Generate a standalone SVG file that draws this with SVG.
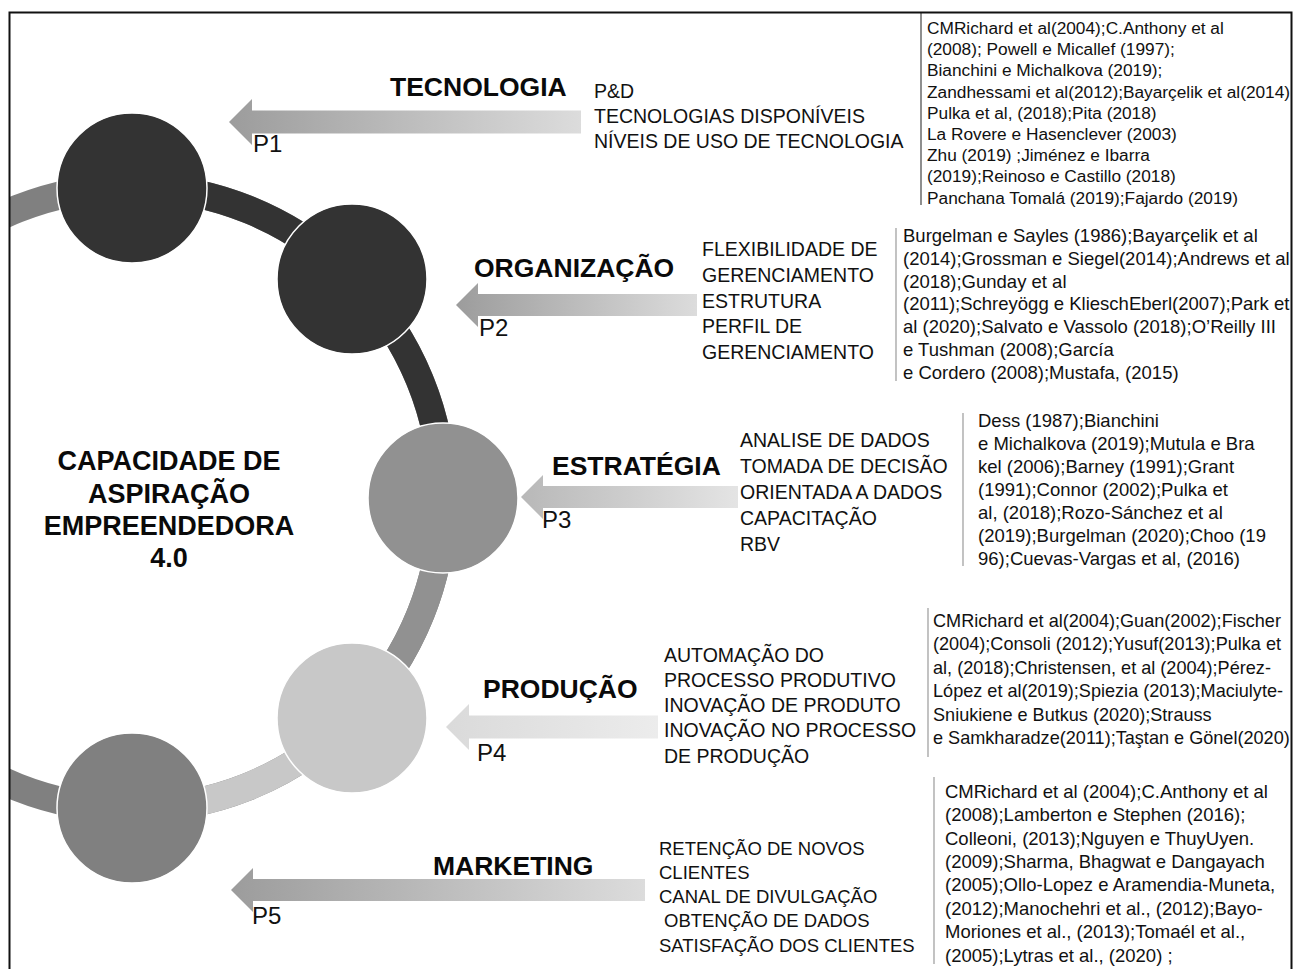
<svg xmlns="http://www.w3.org/2000/svg" width="1295" height="969" viewBox="0 0 1295 969">
<defs>
<style>
.h{font-family:"Liberation Sans",Arial,sans-serif;font-weight:bold;font-size:26.5px;fill:#0a0a0a}
.c{font-family:"Liberation Sans",Arial,sans-serif;font-weight:bold;font-size:27px;fill:#0a0a0a;text-anchor:middle}
.it{font-family:"Liberation Sans",Arial,sans-serif;font-size:19.5px;fill:#111}
.p{font-family:"Liberation Sans",Arial,sans-serif;font-size:24px;fill:#111}
.r1{font-family:"Liberation Sans",Arial,sans-serif;font-size:17.3px;fill:#111}
.r{font-family:"Liberation Sans",Arial,sans-serif;font-size:18.5px;fill:#111}
.r4{font-family:"Liberation Sans",Arial,sans-serif;font-size:18.1px;fill:#111}
.vl{stroke:#9a9a9a;stroke-width:1.2;fill:none}
.ring{fill:none;stroke-width:28}
.node{stroke:#ffffff;stroke-width:1.5}
</style>
<linearGradient id="gA" x1="0" y1="0" x2="1" y2="0">
<stop offset="0" stop-color="#9c9c9c"/><stop offset="1" stop-color="#dcdcdc"/>
</linearGradient>
<linearGradient id="gB" x1="0" y1="0" x2="1" y2="0">
<stop offset="0" stop-color="#b8b8b8"/><stop offset="1" stop-color="#e4e4e4"/>
</linearGradient>
<linearGradient id="gC" x1="0" y1="0" x2="1" y2="0">
<stop offset="0" stop-color="#dadada"/><stop offset="1" stop-color="#ececec"/>
</linearGradient>
<clipPath id="frame"><rect x="10" y="13" width="1281" height="960"/></clipPath>
</defs>
<rect width="1295" height="969" fill="#ffffff"/>
<g clip-path="url(#frame)">
<g id="connectors">
<g id="ring">
<circle class="ring" cx="132" cy="498" r="311" stroke="#808080"/>
<path class="ring" stroke="#333333" d="M132,187 A311,311 0 0 1 351.9,278.1"/>
<path class="ring" stroke="#333333" d="M351.9,278.1 A311,311 0 0 1 443,498"/>
<path class="ring" stroke="#919191" d="M443,498 A311,311 0 0 1 351.9,717.9"/>
<path class="ring" stroke="#c8c8c8" d="M351.9,717.9 A311,311 0 0 1 132,809"/>
</g>
<path id="arrow-p1" fill="url(#gA)" d="M229,122 L252,99 L252,110.5 L581,110.5 L581,133.5 L252,133.5 L252,145 Z"/>
<path id="arrow-p2" fill="url(#gA)" d="M456,305 L478,283 L478,294 L697,294 L697,316 L478,316 L478,327 Z"/>
<path id="arrow-p3" fill="url(#gB)" d="M521,497 L543,475 L543,486 L738,486 L738,508 L543,508 L543,519 Z"/>
<path id="arrow-p4" fill="url(#gC)" d="M446,727 L469,704 L469,715.5 L658,715.5 L658,738.5 L469,738.5 L469,750 Z"/>
<path id="arrow-p5" fill="url(#gA)" d="M231,890 L253,868 L253,879 L645,879 L645,901 L253,901 L253,912 Z"/>
</g>
<g id="node-tecnologia-circle"><circle class="node" cx="132" cy="188" r="75" fill="#333333"/></g>
<g id="node-organizacao-circle"><circle class="node" cx="352" cy="279" r="75" fill="#333333"/></g>
<g id="node-estrategia-circle"><circle class="node" cx="443" cy="498" r="75" fill="#919191"/></g>
<g id="node-producao-circle"><circle class="node" cx="352" cy="718" r="75" fill="#c8c8c8"/></g>
<g id="node-marketing-circle"><circle class="node" cx="132" cy="808" r="75" fill="#808080"/></g>
<g id="node-center">
<text class="c" x="169" y="470">CAPACIDADE DE</text>
<text class="c" x="169" y="503">ASPIRAÇÃO</text>
<text class="c" x="169" y="535">EMPREENDEDORA</text>
<text class="c" x="169" y="567">4.0</text>
</g>
<g id="node-tecnologia">
<text class="h" x="390" y="96">TECNOLOGIA</text>
<text class="p" x="253" y="152">P1</text>
<text class="it" x="594" y="98">P&amp;D</text>
<text class="it" x="594" y="123">TECNOLOGIAS DISPONÍVEIS</text>
<text class="it" x="594" y="148">NÍVEIS DE USO DE TECNOLOGIA</text>
<line x1="921" y1="13" x2="921" y2="205" stroke="#444" stroke-width="1.2"/>
<g class="r1">
<text x="927" y="34">CMRichard et al(2004);C.Anthony et al</text>
<text x="927" y="55">(2008); Powell e Micallef (1997);</text>
<text x="927" y="76">Bianchini e Michalkova (2019);</text>
<text x="927" y="98">Zandhessami et al(2012);Bayarçelik et al(2014)</text>
<text x="927" y="119">Pulka et al, (2018);Pita (2018)</text>
<text x="927" y="140">La Rovere e Hasenclever (2003)</text>
<text x="927" y="161">Zhu (2019) ;Jiménez e Ibarra</text>
<text x="927" y="182">(2019);Reinoso e Castillo (2018)</text>
<text x="927" y="204">Panchana Tomalá (2019);Fajardo (2019)</text>
</g>
</g>
<g id="node-organizacao">
<text class="h" x="474" y="277">ORGANIZAÇÃO</text>
<text class="p" x="479" y="336">P2</text>
<text class="it" x="702" y="256">FLEXIBILIDADE DE</text>
<text class="it" x="702" y="282">GERENCIAMENTO</text>
<text class="it" x="702" y="308">ESTRUTURA</text>
<text class="it" x="702" y="333">PERFIL DE</text>
<text class="it" x="702" y="359">GERENCIAMENTO</text>
<line class="vl" x1="896" y1="228" x2="896" y2="381"/>
<g class="r">
<text x="903" y="242">Burgelman e Sayles (1986);Bayarçelik et al</text>
<text x="903" y="265">(2014);Grossman e Siegel(2014);Andrews et al</text>
<text x="903" y="288">(2018);Gunday et al</text>
<text x="903" y="310">(2011);Schreyögg e KlieschEberl(2007);Park et</text>
<text x="903" y="333">al (2020);Salvato e Vassolo (2018);O’Reilly III</text>
<text x="903" y="356">e Tushman (2008);García</text>
<text x="903" y="379">e Cordero (2008);Mustafa, (2015)</text>
</g>
</g>
<g id="node-estrategia">
<text class="h" x="552" y="475">ESTRATÉGIA</text>
<text class="p" x="542" y="528">P3</text>
<text class="it" x="740" y="447">ANALISE DE DADOS</text>
<text class="it" x="740" y="473">TOMADA DE DECISÃO</text>
<text class="it" x="740" y="499">ORIENTADA A DADOS</text>
<text class="it" x="740" y="525">CAPACITAÇÃO</text>
<text class="it" x="740" y="551">RBV</text>
<line class="vl" x1="963" y1="413" x2="963" y2="566"/>
<g class="r">
<text x="978" y="427">Dess (1987);Bianchini</text>
<text x="978" y="450">e Michalkova (2019);Mutula e Bra</text>
<text x="978" y="473">kel (2006);Barney (1991);Grant</text>
<text x="978" y="496">(1991);Connor (2002);Pulka et</text>
<text x="978" y="519">al, (2018);Rozo-Sánchez et al</text>
<text x="978" y="542">(2019);Burgelman (2020);Choo (19</text>
<text x="978" y="565">96);Cuevas-Vargas et al, (2016)</text>
</g>
</g>
<g id="node-producao">
<text class="h" x="483" y="698">PRODUÇÃO</text>
<text class="p" x="477" y="761">P4</text>
<text class="it" x="664" y="662">AUTOMAÇÃO DO</text>
<text class="it" x="664" y="687">PROCESSO PRODUTIVO</text>
<text class="it" x="664" y="712">INOVAÇÃO DE PRODUTO</text>
<text class="it" x="664" y="737">INOVAÇÃO NO PROCESSO</text>
<text class="it" x="664" y="763">DE PRODUÇÃO</text>
<line class="vl" x1="928" y1="608" x2="928" y2="757"/>
<g class="r4">
<text x="933" y="627">CMRichard et al(2004);Guan(2002);Fischer</text>
<text x="933" y="650">(2004);Consoli (2012);Yusuf(2013);Pulka et</text>
<text x="933" y="674">al, (2018);Christensen, et al (2004);Pérez-</text>
<text x="933" y="697">López et al(2019);Spiezia (2013);Maciulyte-</text>
<text x="933" y="721">Sniukiene e Butkus (2020);Strauss</text>
<text x="933" y="744">e Samkharadze(2011);Taştan e Gönel(2020)</text>
</g>
</g>
<g id="node-marketing">
<text class="h" x="433" y="875">MARKETING</text>
<text class="p" x="252" y="924">P5</text>
<text class="it" x="659" y="855" style="font-size:18.5px">RETENÇÃO DE NOVOS</text>
<text class="it" x="659" y="879" style="font-size:18.5px">CLIENTES</text>
<text class="it" x="659" y="903" style="font-size:18.5px">CANAL DE DIVULGAÇÃO</text>
<text class="it" x="664" y="927" style="font-size:18.5px">OBTENÇÃO DE DADOS</text>
<text class="it" x="659" y="952" style="font-size:18.5px">SATISFAÇÃO DOS CLIENTES</text>
<line class="vl" x1="934" y1="777" x2="934" y2="964"/>
<g class="r">
<text x="945" y="798">CMRichard et al (2004);C.Anthony et al</text>
<text x="945" y="821">(2008);Lamberton e Stephen (2016);</text>
<text x="945" y="845">Colleoni, (2013);Nguyen e ThuyUyen.</text>
<text x="945" y="868">(2009);Sharma, Bhagwat e Dangayach</text>
<text x="945" y="891">(2005);Ollo-Lopez e Aramendia-Muneta,</text>
<text x="945" y="915">(2012);Manochehri et al., (2012);Bayo-</text>
<text x="945" y="938">Moriones et al., (2013);Tomaél et al.,</text>
<text x="945" y="962">(2005);Lytras et al., (2020) ;</text>
</g>
</g>
</g>
<path d="M9.5,980 L9.5,12.5 L1291.5,12.5 L1291.5,980" fill="none" stroke="#111" stroke-width="2"/>
</svg>
